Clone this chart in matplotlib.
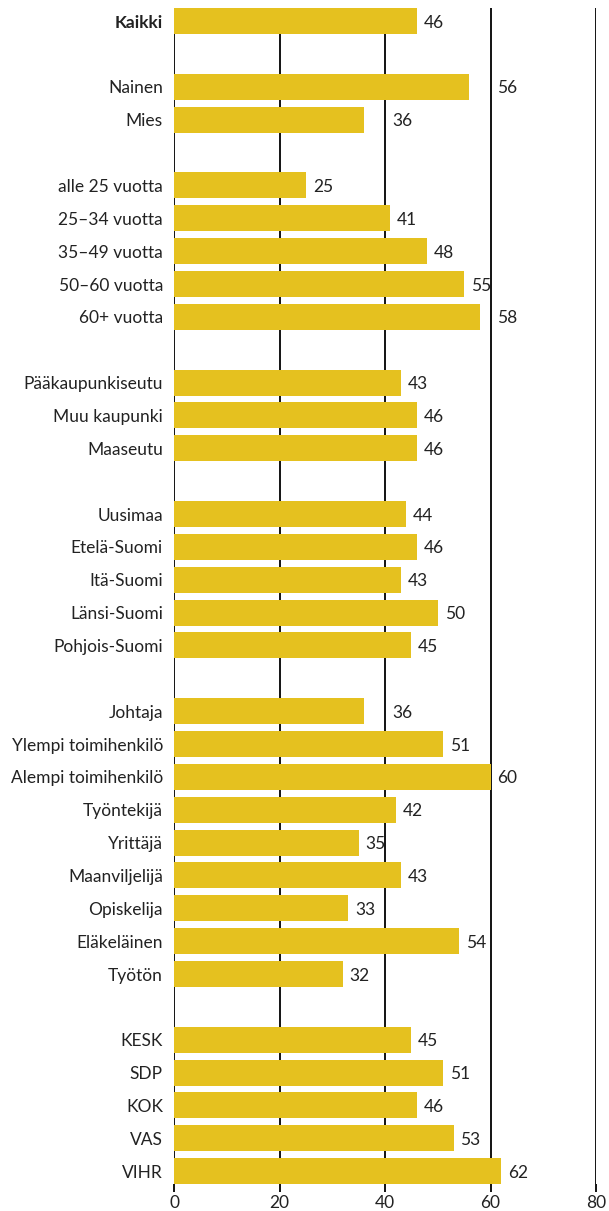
import matplotlib
matplotlib.use("Agg")
import matplotlib.pyplot as plt

# rows top to bottom; None marks a blank spacer row between groups
labels = [
    "Kaikki", None,
    "Nainen", "Mies", None,
    "alle 25 vuotta", "25–34 vuotta", "35–49 vuotta", "50–60 vuotta", "60+ vuotta", None,
    "Pääkaupunkiseutu", "Muu kaupunki", "Maaseutu", None,
    "Uusimaa", "Etelä-Suomi", "Itä-Suomi", "Länsi-Suomi", "Pohjois-Suomi", None,
    "Johtaja", "Ylempi toimihenkilö", "Alempi toimihenkilö", "Työntekijä", "Yrittäjä",
    "Maanviljelijä", "Opiskelija", "Eläkeläinen", "Työtön", None,
    "KESK", "SDP", "KOK", "VAS", "VIHR",
]
values = [
    46, None,
    56, 36, None,
    25, 41, 48, 55, 58, None,
    43, 46, 46, None,
    44, 46, 43, 50, 45, None,
    36, 51, 60, 42, 35, 43, 33, 54, 32, None,
    45, 51, 46, 53, 62,
]
x_ticks = [0, 20, 40, 60, 80]

BAR = "#E5C11F"
FONT = ["Lato", "DejaVu Sans"]

fig = plt.figure(figsize=(6.09, 12.11), dpi=100)
ax = fig.add_axes([174 / 609, 1 - 1184 / 1211, 422 / 609, (1184 - 8) / 1211])

for g in x_ticks:
    ax.axvline(g, color="black", linewidth=1.3, zorder=1)

rows = [i for i, lab in enumerate(labels) if lab is not None]
vals = [values[i] for i in rows]
ax.barh(rows, vals, height=0.79, color=BAR, zorder=2)

# value labels: just past the bar end, pushed over a gridline if they'd cross it
for y, v in zip(rows, vals):
    x = v + 1.3
    for g in x_ticks:
        if v < g < x + 3.6:
            x = g + 1.3
    ax.text(x, y, str(v), va="center_baseline", ha="left", fontsize=12.5,
            family=FONT, color="#222222", zorder=3)

ax.set_yticks(rows)
ax.set_yticklabels([labels[i] for i in rows], family=FONT, fontsize=12.5, color="#222222",
                   va="center_baseline")
ax.get_yticklabels()[0].set_fontweight("bold")
ax.tick_params(axis="y", length=0, pad=8)

ax.set_xticks(x_ticks)
ax.set_xticklabels([str(t) for t in x_ticks], family=FONT, fontsize=12.5, color="#222222")
ax.tick_params(axis="x", length=6, width=1.3, color="black", pad=2)

ax.set_xlim(0, 80)
ax.set_ylim(35.39, -0.4)
for s in ax.spines.values():
    s.set_visible(False)

fig.savefig("out.png", dpi=100)
plt.close(fig)
